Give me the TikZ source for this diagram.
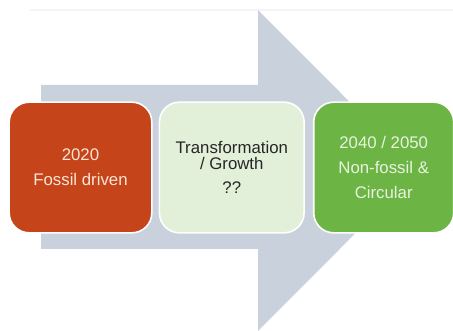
\documentclass[tikz,border=0pt]{standalone}
\usepackage{fontspec}
\setmainfont{Liberation Sans}
\usetikzlibrary{positioning}
\definecolor{arrowgray}{HTML}{C9D1DD}
\definecolor{fossilred}{HTML}{C5441A}
\definecolor{fossiltext}{HTML}{FBE5D6}
\definecolor{transgreen}{HTML}{E2F0D9}
\definecolor{transtext}{HTML}{262626}
\definecolor{circgreen}{HTML}{6CB544}
\definecolor{circtext}{HTML}{E8F3E0}

\begin{document}
\begin{tikzpicture}[x=0.75pt,y=-0.75pt,
  box/.style={rounded corners=15pt, draw=white, line width=1.2pt,
    minimum height=98pt, align=center, inner sep=0pt,
    font=\fontsize{12.6}{18.75}\selectfont}]
\useasboundingbox (0,0) rectangle (453,331);
%ligne du haut
\draw [gray!8, line width=0.8pt] (30,10) -- (453,10);
%grande fleche
\fill [arrowgray] (41,85) -- (258,85) -- (258,10) -- (418,170.5)
  -- (258,331) -- (258,249) -- (41,249) -- cycle;
%les trois etapes
\node[box, fill=fossilred, text=fossiltext, minimum width=107pt] (fossil) at (80.5,167.5) {2020\\Fossil driven};
\node[box, fill=transgreen, text=transtext, minimum width=108.5pt,
  font=\fontsize{12.6}{12}\selectfont, right=4.5pt of fossil] (transfo) {Transformation\\/ Growth\\[6.5pt]??};
\node[box, fill=circgreen, text=circtext, minimum width=105pt, right=6pt of transfo] (circular) {2040 / 2050\\Non-fossil \&\\Circular};
\end{tikzpicture}
\end{document}
